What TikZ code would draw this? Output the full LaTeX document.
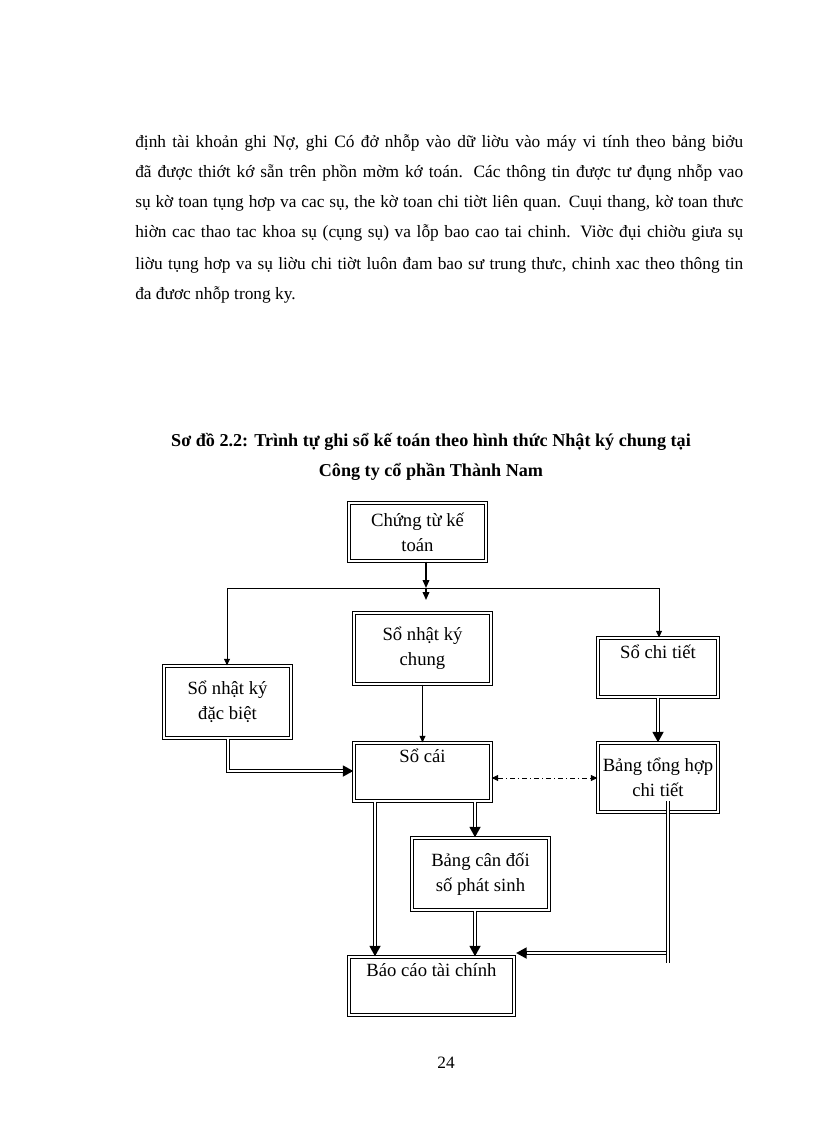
\documentclass[tikz,border=0pt]{standalone}
\usepackage{fontspec}
\setmainfont{Liberation Serif}
\usetikzlibrary{arrows.meta}
\tikzset{
  box/.style={draw, double, line width=0.85pt, double distance=1pt, align=center, inner sep=0pt, font=\fontsize{14}{18.5}\selectfont},
  thinline/.style={line width=0.6pt},
  thinarrow/.style={line width=0.6pt, -{Triangle[length=5pt,width=4.5pt]}},
  dblarrow/.style={line width=2.8pt, -{Triangle[length=8pt,width=8pt]},
    postaction={draw=white, line width=0.9pt, -, shorten >=8pt}},
  dblline/.style={line width=2.8pt, postaction={draw=white, line width=0.9pt}},
  dashdot/.style={line width=0.6pt, dash pattern=on 4pt off 2pt on 1pt off 2pt,
    {Triangle[length=5pt,width=4.5pt]}-{Triangle[length=5pt,width=4.5pt]}},
  para/.style={anchor=base west, inner sep=0pt, font=\fontsize{13}{15}\selectfont},
  ttl/.style={anchor=base, inner sep=0pt, font=\bfseries\fontsize{13.6}{16}\selectfont},
}
\begin{document}
\begin{tikzpicture}[x=0.75pt, y=-0.75pt]
\useasboundingbox (0,0) rectangle (816,1123);
\fill[white] (0,0) rectangle (816,1123);
% paragraph
\node[para] (p1) at (135,148) {\makebox[456pt][s]{định tài khoản ghi Nợ, ghi Có đở nhỗp vào dữ liờu vào máy vi tính theo bảng biởu}};
\node[para] (p2) at (135,178) {\makebox[456pt][s]{đã được thiớt kớ sẵn trên phồn mờm kớ toán. Các thông tin được tư đụng nhỗp vao}};
\node[para] (p3) at (135,208) {\makebox[456pt][s]{sụ kờ toan tụng hơp va cac sụ, the kờ toan chi tiờt liên quan. Cuụi thang, kờ toan thưc}};
\node[para] (p4) at (135,238) {\makebox[456pt][s]{hiờn cac thao tac khoa sụ (cụng sụ) va lỗp bao cao tai chinh. Viờc đụi chiờu giưa sụ}};
\node[para] (p5) at (135,269) {\makebox[456pt][s]{liờu tụng hơp va sụ liờu chi tiờt luôn đam bao sư trung thưc, chinh xac theo thông tin}};
\node[para] (p6) at (135,299) {đa đươc nhỗp trong ky.};
% title
\node[ttl] (t1) at (431,446) {Sơ đồ 2.2: Trình tự ghi sổ kế toán theo hình thức Nhật ký chung tại};
\node[ttl] (t2) at (431,476) {Công ty cổ phần Thành Nam};
% boxes
\node[box, minimum width=137*0.75pt, minimum height=58*0.75pt] (ct) at (417.5,532) {Chứng từ kế\\toán};
\node[box, minimum width=137*0.75pt, minimum height=71*0.75pt] (nkc) at (422.5,648.5) {Sổ nhật ký\\chung};
\node[box, minimum width=127*0.75pt, minimum height=72*0.75pt] (nkdb) at (227.5,702) {Sổ nhật ký\\đặc biệt};
\node[box, minimum width=120*0.75pt, minimum height=59*0.75pt] (sct) at (658,667.5) {Sổ chi tiết\\\strut};
\node[box, minimum width=137*0.75pt, minimum height=58*0.75pt] (sc) at (422.5,772) {Sổ cái\\\strut};
\node[box, minimum width=120*0.75pt, minimum height=69*0.75pt] (bth) at (658,777.5) {Bảng tổng hợp\\chi tiết};
\node[box, minimum width=137*0.75pt, minimum height=72*0.75pt] (bcd) at (480.5,874) {Bảng cân đối\\số phát sinh};
\node[box, minimum width=165*0.75pt, minimum height=58*0.75pt] (bctc) at (431.5,986) {Báo cáo tài chính\\\strut};
% page number
\node[para, anchor=base] (pg) at (446,1068) {24};
% connectors
\coordinate (hl) at (227,588);
\coordinate (hr) at (659,588);
\coordinate (hm) at (426,588);
\coordinate (hd) at (426,600);
\draw[thinline] (hl) -- (hr);
\draw[line width=1.1pt, -{Triangle[length=6pt,width=5pt]}] (ct.south -| hm) -- (hm);
\draw[line width=1.1pt, -{Triangle[length=6pt,width=5pt]}] (hm) -- (hd);
\draw[thinarrow] (hl) -- (nkdb.north -| hl);
\draw[thinarrow] (hr) -- (sct.north -| hr);
\draw[thinarrow] (nkc.south) -- (sc.north);
\coordinate (nkdbturn) at (228,771);
\draw[dblarrow] (nkdb.south -| nkdbturn) -- (nkdbturn) -- (sc.west |- nkdbturn);
\draw[dblarrow] (sct.south) -- (bth.north);
\draw[dashdot] (sc.east |- 0,778) -- (bth.west |- 0,778);
\coordinate (scl) at (375,0);
\coordinate (scr) at (475,0);
\draw[dblarrow] (sc.south -| scl) -- (bctc.north -| scl);
\draw[dblarrow] (sc.south -| scr) -- (bcd.north -| scr);
\draw[dblarrow] (bcd.south -| scr) -- (bctc.north -| scr);
\coordinate (bthtop) at (668,801);
\coordinate (bthbot) at (668,963);
\coordinate (bthturn) at (668,953);
\coordinate (bctcend) at (516,953);
\draw[dblarrow] (bthturn) -- (bctcend);
\draw[dblline] (bthtop) -- (bthbot);
\end{tikzpicture}
\end{document}
